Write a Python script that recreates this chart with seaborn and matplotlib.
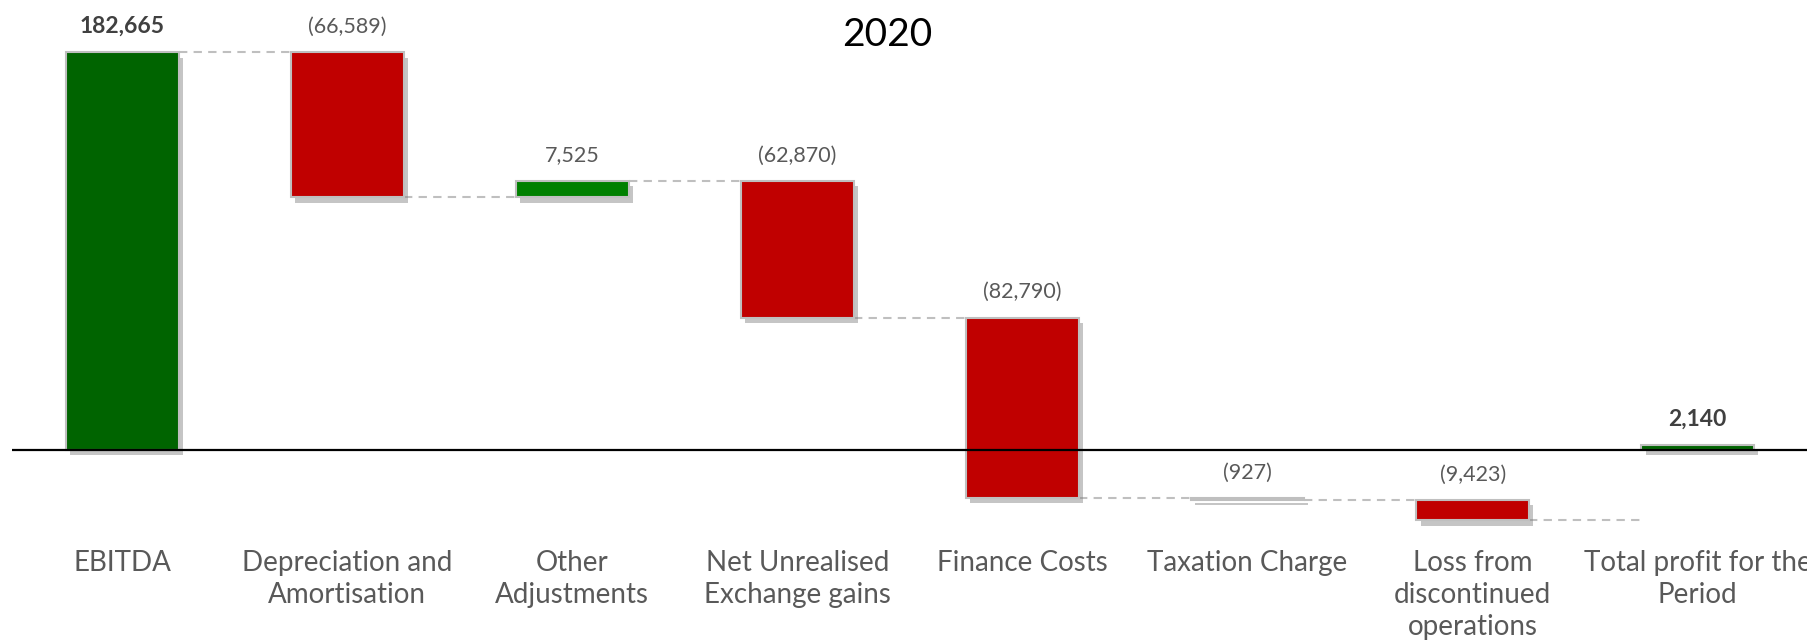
import numpy as np
import pandas as pd
import matplotlib
matplotlib.use("Agg")
import matplotlib.pyplot as plt
import matplotlib.patheffects as pe
import seaborn as sns

# Profit bridge, 2020
title = "2020"
categories = [
    "EBITDA",
    "Depreciation and Amortisation",
    "Other Adjustments",
    "Net Unrealised Exchange gains",
    "Finance Costs",
    "Taxation Charge",
    "Loss from discontinued operations",
    "Total profit for the Period",
]
tick_labels = [
    "EBITDA",
    "Depreciation and\nAmortisation",
    "Other\nAdjustments",
    "Net Unrealised\nExchange gains",
    "Finance Costs",
    "Taxation Charge",
    "Loss from\ndiscontinued\noperations",
    "Total profit for the\nPeriod",
]
values = [182665, -66589, 7525, -62870, -82790, -927, -9423, 2140]
kinds = ["total", "step", "step", "step", "step", "step", "step", "total"]

# Floating bar geometry from the running level
starts, ends = [], []
level = 0
for v, k in zip(values, kinds):
    if k == "total":
        s, e = 0, v
    else:
        s, e = level, level + v
    starts.append(s)
    ends.append(e)
    level = e
bases = [min(s, e) for s, e in zip(starts, ends)]
heights = [abs(e - s) for s, e in zip(starts, ends)]

colors = []
for v, k in zip(values, kinds):
    if k == "total":
        colors.append("#006400")
    elif v >= 0:
        colors.append("#008000")
    else:
        colors.append("#C00000")

sns.set_style("white")
plt.rcParams["font.family"] = ["Lato", "DejaVu Sans"]

fig = plt.figure(figsize=(18.08, 6.43), dpi=100)
ax = fig.add_axes([12 / 1808, 117 / 643, 1796 / 1808, 526 / 643])

df = pd.DataFrame({"category": categories, "height": heights})
sns.barplot(
    data=df, x="category", y="height", order=categories,
    bottom=np.array(bases, dtype=float), width=0.5, errorbar=None,
    color="#C00000", edgecolor="#BFBFBF", linewidth=1.5, ax=ax, zorder=3,
)
shadow = [pe.SimplePatchShadow(offset=(3, -4), shadow_rgbFace="#808080", alpha=0.45), pe.Normal()]
for patch, c in zip(ax.patches, colors):
    patch.set_facecolor(c)
    patch.set_path_effects(shadow)

# Dashed connectors between neighbouring bars
for i in range(len(values) - 1):
    ax.plot([i + 0.25, i + 0.75], [ends[i], ends[i]], color="#BFBFBF",
            lw=1.5, ls=(0, (4, 3)), zorder=2)

# Value labels above each bar
for i, (v, k) in enumerate(zip(values, kinds)):
    top = max(starts[i], ends[i])
    txt = f"{v:,}" if v >= 0 else f"({abs(v):,})"
    ax.annotate(txt, xy=(i, top), xytext=(0, 11), textcoords="offset points",
                ha="center", va="bottom",
                fontsize=16.5 if k == "total" else 15.5,
                fontweight="bold" if k == "total" else "normal",
                color="#404040" if k == "total" else "#595959")

ax.axhline(0, color="black", lw=1.6, zorder=4)
ax.set_xlim(-0.49, 7.49)
ax.set_ylim(-35000, 206650)
ax.set_xticks(range(len(categories)))
ax.set_xticklabels(tick_labels, fontsize=20, color="#595959", linespacing=1.3)
ax.tick_params(axis="x", length=0, pad=17)
ax.set_yticks([])
ax.set_xlabel("")
ax.set_ylabel("")
for sp in ax.spines.values():
    sp.set_visible(False)

fig.text(0.491, 0.946, title, ha="center", va="center", fontsize=28, color="black")

fig.savefig("out.png", dpi=100, facecolor="white")
